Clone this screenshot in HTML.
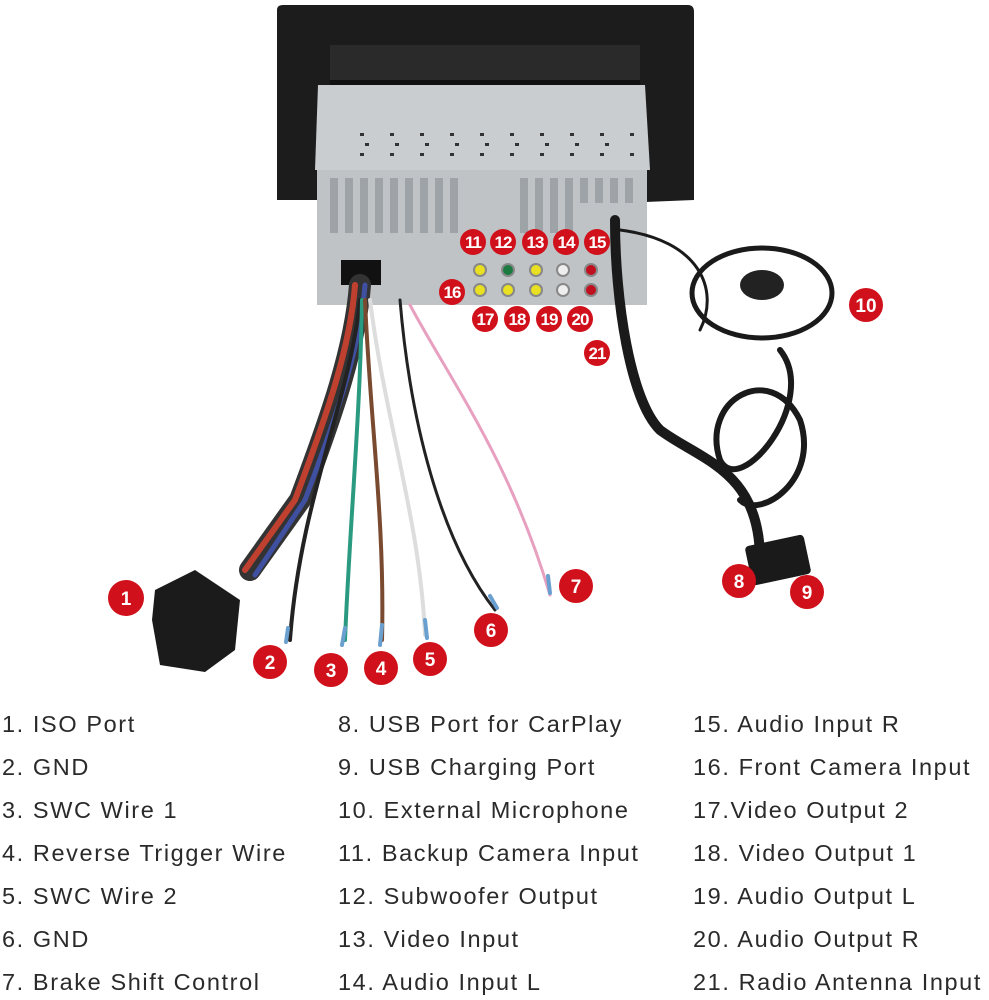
<!DOCTYPE html>
<html><head><meta charset="utf-8"><style>
html,body{margin:0;padding:0;background:#fff;width:989px;height:1000px;overflow:hidden}
.t{position:absolute;font-family:"Liberation Sans",sans-serif;font-size:23.5px;letter-spacing:1.6px;color:#2a2a2a;white-space:nowrap}
</style></head><body>
<svg width="989" height="700" style="position:absolute;left:0;top:0" font-family="Liberation Sans,sans-serif">
<path d="M277 10 Q277 5 283 5 L688 5 Q694 5 694 12 L694 200 L645 202 L645 165 L318 165 L318 200 L277 200 Z" fill="#1c1c1c"/>
<rect x="330" y="45" width="310" height="40" fill="#2a2a2a"/>
<rect x="330" y="80" width="310" height="6" fill="#111"/>
<path d="M318 85 L645 85 L650 170 L315 170 Z" fill="#c9cdd0"/>
<rect x="317" y="170" width="330" height="135" fill="#bfc3c6"/>
<g fill="#9ea3a7">
<rect x="330" y="178" width="8" height="55"/><rect x="345" y="178" width="8" height="55"/><rect x="360" y="178" width="8" height="55"/><rect x="375" y="178" width="8" height="55"/><rect x="390" y="178" width="8" height="55"/><rect x="405" y="178" width="8" height="55"/><rect x="420" y="178" width="8" height="55"/><rect x="435" y="178" width="8" height="55"/><rect x="450" y="178" width="8" height="55"/><rect x="520" y="178" width="8" height="55"/><rect x="535" y="178" width="8" height="55"/><rect x="550" y="178" width="8" height="55"/><rect x="565" y="178" width="8" height="55"/><rect x="580" y="178" width="8" height="25"/><rect x="595" y="178" width="8" height="25"/><rect x="610" y="178" width="8" height="25"/><rect x="625" y="178" width="8" height="25"/>
</g>
<g fill="#333">
<rect x="360" y="133" width="4" height="3"/><rect x="390" y="133" width="4" height="3"/><rect x="420" y="133" width="4" height="3"/><rect x="450" y="133" width="4" height="3"/><rect x="480" y="133" width="4" height="3"/><rect x="510" y="133" width="4" height="3"/><rect x="540" y="133" width="4" height="3"/><rect x="570" y="133" width="4" height="3"/><rect x="600" y="133" width="4" height="3"/><rect x="630" y="133" width="4" height="3"/>
<rect x="365" y="143" width="4" height="3"/><rect x="395" y="143" width="4" height="3"/><rect x="425" y="143" width="4" height="3"/><rect x="455" y="143" width="4" height="3"/><rect x="485" y="143" width="4" height="3"/><rect x="515" y="143" width="4" height="3"/><rect x="545" y="143" width="4" height="3"/><rect x="575" y="143" width="4" height="3"/><rect x="605" y="143" width="4" height="3"/>
<rect x="360" y="153" width="4" height="3"/><rect x="390" y="153" width="4" height="3"/><rect x="420" y="153" width="4" height="3"/><rect x="450" y="153" width="4" height="3"/><rect x="480" y="153" width="4" height="3"/><rect x="510" y="153" width="4" height="3"/><rect x="540" y="153" width="4" height="3"/><rect x="570" y="153" width="4" height="3"/><rect x="600" y="153" width="4" height="3"/><rect x="630" y="153" width="4" height="3"/>
</g>
<rect x="341" y="260" width="40" height="25" fill="#111"/>
<g stroke="#888" stroke-width="2">
<circle cx="480" cy="270" r="6" fill="#e8e020"/><circle cx="508" cy="270" r="6" fill="#1a7a40"/><circle cx="536" cy="270" r="6" fill="#e8e020"/><circle cx="563" cy="270" r="6" fill="#eee"/><circle cx="591" cy="270" r="6" fill="#c01020"/>
<circle cx="480" cy="290" r="6" fill="#e8e020"/><circle cx="508" cy="290" r="6" fill="#e8e020"/><circle cx="536" cy="290" r="6" fill="#e8e020"/><circle cx="563" cy="290" r="6" fill="#eee"/><circle cx="591" cy="290" r="6" fill="#c01020"/>
</g>
<g fill="none" stroke-linecap="round">
<path d="M360 285 C355 350 330 420 300 500 L250 570" stroke="#333" stroke-width="22"/>
<path d="M355 285 C350 350 325 420 295 500 L245 570" stroke="#c04030" stroke-width="6"/>
<path d="M365 285 C360 350 335 420 305 500 L255 575" stroke="#4050a0" stroke-width="5"/>
<path d="M360 300 C350 400 300 500 290 640" stroke="#222" stroke-width="4"/>
<path d="M362 300 C360 420 350 520 345 640" stroke="#2a9a80" stroke-width="4"/>
<path d="M365 300 C370 420 385 520 382 640" stroke="#7a4a30" stroke-width="4"/>
<path d="M370 300 C385 420 420 520 425 635" stroke="#ddd" stroke-width="4"/>
<path d="M400 300 C410 420 440 540 495 610" stroke="#222" stroke-width="3"/>
<path d="M410 305 C450 380 510 460 550 595" stroke="#e8a0c0" stroke-width="3"/>
<path d="M615 220 C615 300 630 400 660 430 C700 460 760 470 760 560" stroke="#1a1a1a" stroke-width="10"/>
<path d="M620 230 C700 240 720 290 700 330" stroke="#1a1a1a" stroke-width="3"/>
<path d="M780 350 C820 400 740 500 720 460 C700 400 770 360 800 420 C820 480 760 520 740 500" stroke="#1a1a1a" stroke-width="6"/>
</g>
<ellipse cx="762" cy="293" rx="70" ry="45" fill="none" stroke="#1a1a1a" stroke-width="5"/>
<ellipse cx="762" cy="285" rx="22" ry="15" fill="#222"/>
<rect x="748" y="540" width="60" height="40" rx="4" fill="#1a1a1a" transform="rotate(-12 778 560)"/>
<path d="M155 590 L195 570 L240 600 L235 650 L205 672 L160 665 L152 620 Z" fill="#1b1b1b"/>
<g stroke="#6aa0d0" stroke-width="4" stroke-linecap="round"><line x1="288" y1="628" x2="286" y2="642"/><line x1="345" y1="628" x2="342" y2="645"/><line x1="382" y1="625" x2="380" y2="645"/><line x1="425" y1="620" x2="427" y2="638"/><line x1="490" y1="596" x2="497" y2="608"/><line x1="548" y1="576" x2="550" y2="593"/></g>
<g fill="#d0101a">
<circle cx="126" cy="598" r="18"/><circle cx="270" cy="662" r="17"/><circle cx="331" cy="670" r="17"/><circle cx="381" cy="668" r="17"/><circle cx="430" cy="659" r="17"/><circle cx="491" cy="630" r="17"/><circle cx="576" cy="586" r="17"/><circle cx="739" cy="581" r="17"/><circle cx="807" cy="592" r="17"/><circle cx="866" cy="305" r="17"/>
<circle cx="473" cy="242" r="13"/><circle cx="503" cy="242" r="13"/><circle cx="535" cy="242" r="13"/><circle cx="566" cy="242" r="13"/><circle cx="597" cy="242" r="13"/><circle cx="452" cy="292" r="13"/><circle cx="485" cy="319" r="13"/><circle cx="517" cy="319" r="13"/><circle cx="549" cy="319" r="13"/><circle cx="580" cy="319" r="13"/><circle cx="597" cy="353" r="13"/>
</g>
<g fill="#fff" font-weight="bold" text-anchor="middle" font-size="19">
<text x="126" y="605">1</text><text x="270" y="669">2</text><text x="331" y="677">3</text><text x="381" y="675">4</text><text x="430" y="666">5</text><text x="491" y="637">6</text><text x="576" y="593">7</text><text x="739" y="588">8</text><text x="807" y="599">9</text><text x="866" y="312">10</text>
</g>
<g fill="#fff" font-weight="bold" text-anchor="middle" font-size="17" letter-spacing="-1">
<text x="473" y="248">11</text><text x="503" y="248">12</text><text x="535" y="248">13</text><text x="566" y="248">14</text><text x="597" y="248">15</text><text x="452" y="298">16</text><text x="485" y="325">17</text><text x="517" y="325">18</text><text x="549" y="325">19</text><text x="580" y="325">20</text><text x="597" y="359">21</text>
</g>
</svg>
<div class="t" style="left:2px;top:711px">1. ISO Port</div>
<div class="t" style="left:2px;top:754px">2. GND</div>
<div class="t" style="left:2px;top:797px">3. SWC Wire 1</div>
<div class="t" style="left:2px;top:840px">4. Reverse Trigger Wire</div>
<div class="t" style="left:2px;top:883px">5. SWC Wire 2</div>
<div class="t" style="left:2px;top:926px">6. GND</div>
<div class="t" style="left:2px;top:969px">7. Brake Shift Control</div>
<div class="t" style="left:338px;top:711px">8. USB Port for CarPlay</div>
<div class="t" style="left:338px;top:754px">9. USB Charging Port</div>
<div class="t" style="left:338px;top:797px">10. External Microphone</div>
<div class="t" style="left:338px;top:840px">11. Backup Camera Input</div>
<div class="t" style="left:338px;top:883px">12. Subwoofer Output</div>
<div class="t" style="left:338px;top:926px">13. Video Input</div>
<div class="t" style="left:338px;top:969px">14. Audio Input L</div>
<div class="t" style="left:693px;top:711px">15. Audio Input R</div>
<div class="t" style="left:693px;top:754px">16. Front Camera Input</div>
<div class="t" style="left:693px;top:797px">17.Video Output 2</div>
<div class="t" style="left:693px;top:840px">18. Video Output 1</div>
<div class="t" style="left:693px;top:883px">19. Audio Output L</div>
<div class="t" style="left:693px;top:926px">20. Audio Output R</div>
<div class="t" style="left:693px;top:969px">21. Radio Antenna Input</div>
</body></html>
